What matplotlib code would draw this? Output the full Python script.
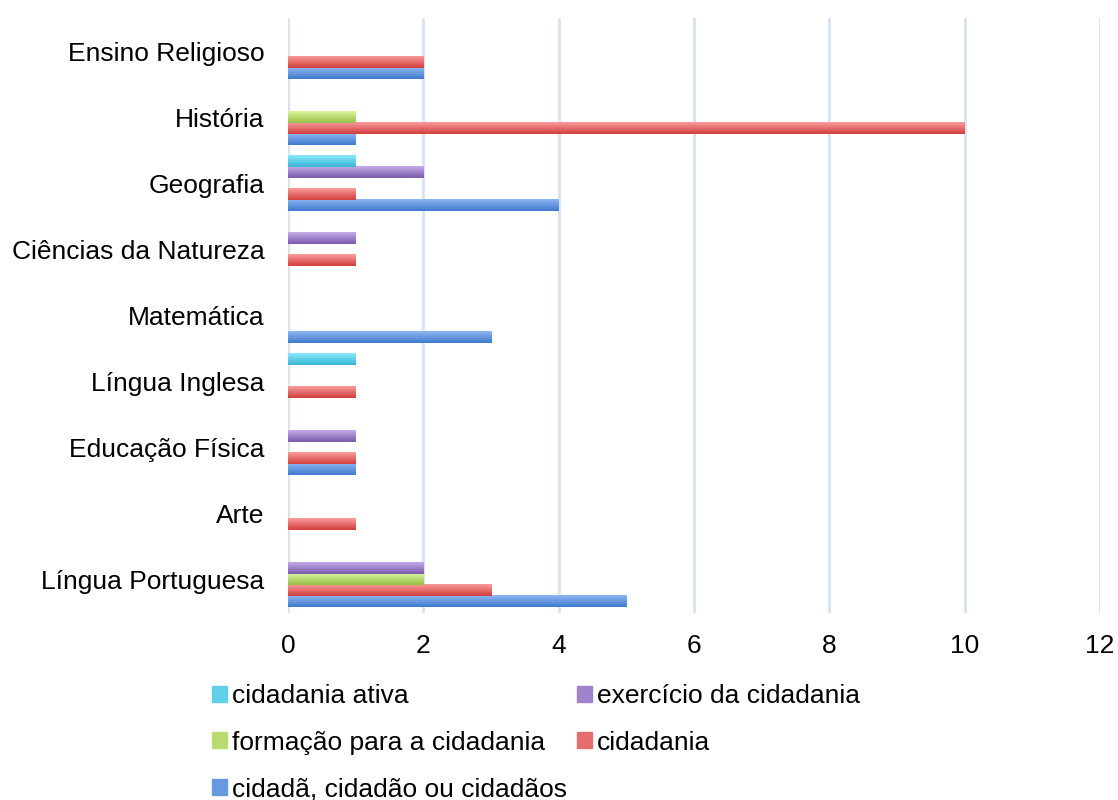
import matplotlib.pyplot as plt
import matplotlib.patches as mpatches
from matplotlib.colors import LinearSegmentedColormap, to_rgb
import numpy as np

plt.rcParams['font.family'] = ['Liberation Sans', 'DejaVu Sans']

disciplinas = ["Língua Portuguesa", "Arte", "Educação Física", "Língua Inglesa",
               "Matemática", "Ciências da Natureza", "Geografia", "História",
               "Ensino Religioso"]

# valores por série (mesma ordem das disciplinas)
cidada = [5, 0, 1, 0, 3, 0, 4, 1, 2]        # cidadã, cidadão ou cidadãos
cidadania = [3, 1, 1, 1, 0, 1, 1, 10, 2]
formacao = [2, 0, 0, 0, 0, 0, 0, 1, 0]
exercicio = [2, 0, 1, 0, 0, 1, 2, 0, 0]
ativa = [0, 0, 0, 1, 0, 0, 1, 0, 0]

# nome, valores, cor clara (topo), cor escura (base)
series = [
    ("cidadã, cidadão ou cidadãos", cidada, "#8fb6f1", "#3e7acf"),
    ("cidadania", cidadania, "#fa9c9b", "#d23e3e"),
    ("formação para a cidadania", formacao, "#d8f59d", "#98c047"),
    ("exercício da cidadania", exercicio, "#c5abe8", "#7a5bad"),
    ("cidadania ativa", ativa, "#8deafb", "#36b5d4"),
]

fig = plt.figure(figsize=(11.18, 8), dpi=100)
ax = fig.add_axes([0.2576, 0.234, 0.984 - 0.2576, 0.9775 - 0.234])

y = np.arange(len(disciplinas))
h = 0.167
grad = np.linspace(0, 1, 64).reshape(-1, 1)
handles = {}
for i, (nome, vals, c1, c2) in enumerate(series):
    off = (i - 2) * h
    bars = ax.barh(y + off, vals, height=h, color=c2, zorder=3)
    cmap = LinearSegmentedColormap.from_list(nome, [c1, c2])
    for p in bars:
        if p.get_width() == 0:
            continue
        x0, y0 = p.get_x(), p.get_y()
        ax.imshow(grad, cmap=cmap, aspect='auto', origin='lower',
                  extent=(x0, x0 + p.get_width(), y0 + p.get_height(), y0),
                  zorder=4, interpolation='bilinear')
    meio = (np.array(to_rgb(c1)) + np.array(to_rgb(c2))) / 2
    handles[nome] = mpatches.Patch(color=meio, label=nome)

ax.set_xlim(0, 12)
ax.set_ylim(-0.5, len(disciplinas) - 0.5)
ax.set_xticks(range(0, 13, 2))
ax.set_yticks(y)
ax.set_yticklabels(disciplinas)
ax.tick_params(axis='both', length=0, labelsize=19, colors='black')
ax.tick_params(axis='x', pad=15)
ax.tick_params(axis='y', pad=17)
for s in ax.spines.values():
    s.set_visible(False)
ax.grid(axis='x', color='#d6e2f0', linewidth=2, zorder=0)
ax.set_axisbelow(True)

ordem = ["cidadania ativa", "formação para a cidadania", "cidadã, cidadão ou cidadãos",
         "exercício da cidadania", "cidadania"]
fig.legend([handles[n] for n in ordem], ordem, ncol=2, loc='upper left',
           bbox_to_anchor=(0.1896, 0.145), frameon=False, fontsize=19,
           handlelength=0.57, handleheight=0.57, handletextpad=0.2,
           labelspacing=0.86, columnspacing=0.35, borderaxespad=0, borderpad=0)

plt.savefig("out.png", dpi=100)
